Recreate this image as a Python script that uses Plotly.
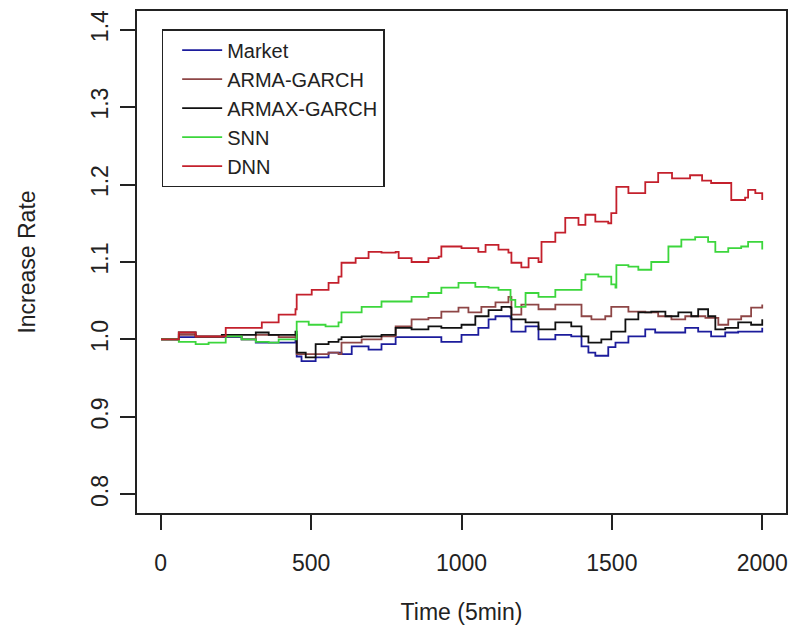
import plotly.graph_objects as go

# ---- data (x = time index, y = cumulative increase rate) ----
market_x = [1, 60, 116, 203, 269, 316, 392, 448, 452, 468, 515, 558, 601, 635, 691, 734, 781, 834, 890, 933,
            1000, 1056, 1090, 1113, 1163, 1166, 1213, 1256, 1312, 1365, 1399, 1422, 1445, 1488, 1512, 1555,
            1611, 1644, 1698, 1744, 1787, 1830, 1877, 1920, 2000]
market_y = [1.000, 1.003, 1.003, 1.003, 1.000, 0.996, 0.996, 1.000, 0.978, 0.972, 0.977, 0.983, 0.981, 0.991,
            0.987, 0.994, 1.003, 1.003, 1.003, 0.997, 1.006, 1.015, 1.026, 1.030, 1.028, 1.010, 1.017, 1.000,
            1.006, 1.004, 0.991, 0.983, 0.979, 0.990, 0.996, 1.004, 1.013, 1.009, 1.009, 1.015, 1.010, 1.004,
            1.009, 1.010, 1.015]

arma_x = [1, 60, 116, 203, 269, 316, 392, 448, 452, 492, 558, 591, 601, 668, 734, 781, 834, 890, 933, 990,
          1023, 1066, 1113, 1156, 1166, 1199, 1256, 1312, 1365, 1399, 1432, 1478, 1498, 1555, 1611, 1654,
          1698, 1744, 1811, 1854, 1887, 1930, 1963, 2000]
arma_y = [1.000, 1.006, 1.003, 1.004, 1.000, 1.006, 1.003, 1.006, 0.981, 0.981, 0.983, 0.981, 0.996, 1.000,
          1.004, 1.017, 1.026, 1.028, 1.036, 1.041, 1.035, 1.042, 1.048, 1.055, 1.032, 1.045, 1.039, 1.045,
          1.045, 1.030, 1.026, 1.030, 1.042, 1.036, 1.035, 1.030, 1.026, 1.030, 1.028, 1.019, 1.026, 1.030,
          1.041, 1.045]

armax_x = [1, 60, 116, 203, 316, 359, 425, 448, 452, 482, 515, 558, 591, 601, 668, 734, 781, 834, 890, 933,
           1000, 1046, 1090, 1133, 1163, 1166, 1213, 1256, 1312, 1365, 1399, 1422, 1465, 1498, 1545, 1588,
           1631, 1678, 1721, 1764, 1787, 1820, 1844, 1877, 1920, 1963, 2000]
armax_y = [1.000, 1.009, 1.004, 1.006, 1.009, 1.006, 1.006, 1.010, 0.983, 0.977, 0.994, 0.997, 1.000, 1.003,
           1.004, 1.006, 1.015, 1.013, 1.017, 1.015, 1.019, 1.030, 1.038, 1.042, 1.041, 1.026, 1.022, 1.013,
           1.022, 1.017, 1.004, 0.996, 1.000, 1.010, 1.026, 1.035, 1.036, 1.030, 1.035, 1.030, 1.039, 1.030,
           1.013, 1.015, 1.022, 1.019, 1.026]

snn_x = [1, 60, 116, 159, 216, 269, 316, 359, 392, 448, 452, 492, 548, 591, 601, 668, 734, 781, 834, 890, 933,
         990, 1046, 1090, 1123, 1163, 1179, 1213, 1256, 1312, 1365, 1399, 1412, 1455, 1498, 1512, 1515, 1555,
         1588, 1631, 1688, 1731, 1777, 1820, 1844, 1887, 1930, 1953, 2000]
snn_y = [1.000, 0.997, 0.994, 0.996, 1.004, 1.000, 0.997, 0.996, 1.000, 1.000, 1.023, 1.019, 1.017, 1.022,
         1.035, 1.042, 1.049, 1.049, 1.055, 1.060, 1.067, 1.073, 1.068, 1.067, 1.064, 1.051, 1.042, 1.060,
         1.055, 1.064, 1.064, 1.077, 1.084, 1.081, 1.071, 1.067, 1.096, 1.094, 1.090, 1.100, 1.120, 1.129,
         1.132, 1.126, 1.113, 1.118, 1.120, 1.126, 1.116]

dnn_x = [1, 60, 116, 203, 216, 302, 336, 392, 448, 452, 502, 558, 591, 601, 648, 691, 734, 781, 791, 834, 890,
         924, 933, 1000, 1056, 1080, 1123, 1156, 1166, 1199, 1223, 1256, 1266, 1312, 1345, 1389, 1412, 1445,
         1488, 1498, 1515, 1555, 1611, 1654, 1700, 1760, 1800, 1830, 1897, 1943, 1953, 1977, 2000]
dnn_y = [1.000, 1.009, 1.004, 1.004, 1.015, 1.015, 1.022, 1.032, 1.039, 1.058, 1.064, 1.073, 1.081, 1.099,
         1.105, 1.113, 1.112, 1.113, 1.105, 1.100, 1.105, 1.107, 1.120, 1.118, 1.113, 1.122, 1.116, 1.112,
         1.099, 1.093, 1.105, 1.100, 1.126, 1.138, 1.157, 1.148, 1.161, 1.152, 1.150, 1.163, 1.197, 1.189,
         1.203, 1.215, 1.208, 1.212, 1.205, 1.202, 1.180, 1.183, 1.193, 1.189, 1.180]

series_names = ["Market", "ARMA-GARCH", "ARMAX-GARCH", "SNN", "DNN"]
series_colors = ["#1c1c9c", "#8e4646", "#111111", "#3cd63c", "#c4202c"]

x_ticks = [0, 500, 1000, 1500, 2000]
y_ticks = [0.8, 0.9, 1.0, 1.1, 1.2, 1.3, 1.4]

FONT = "Liberation Sans, Arial, sans-serif"

fig = go.Figure()
data = [(market_x, market_y), (arma_x, arma_y), (armax_x, armax_y), (snn_x, snn_y), (dnn_x, dnn_y)]
for (xs, ys), name, col in zip(data, series_names, series_colors):
    fig.add_trace(go.Scatter(x=xs, y=ys, mode="lines", name=name,
                             line=dict(color=col, width=1.8, shape="hv")))

axis_common = dict(showgrid=False, zeroline=False, showline=True, linecolor="#222", linewidth=1.5,
                   mirror=True, ticks="outside", ticklen=15, tickwidth=1.5, tickcolor="#222",
                   tickfont=dict(family=FONT, size=23, color="#222"))

fig.update_xaxes(range=[-79, 2079], tickvals=x_ticks, ticklabelstandoff=14,
                 title=dict(text="Time (5min)", font=dict(family=FONT, size=23, color="#222"), standoff=29),
                 **axis_common)
fig.update_yaxes(range=[0.776, 1.424], tickvals=y_ticks, tickformat=".1f", tickangle=-90,
                 ticklabelstandoff=3,
                 title=dict(text="Increase Rate", font=dict(family=FONT, size=23, color="#222"), standoff=45),
                 **axis_common)

fig.update_layout(
    width=795, height=633,
    margin=dict(l=137, r=7, t=11, b=120),
    paper_bgcolor="white", plot_bgcolor="white",
    font=dict(family=FONT, color="#222"),
    legend=dict(x=0.038, y=0.964, xanchor="left", yanchor="top",
                bordercolor="#222", borderwidth=1.5, bgcolor="white",
                font=dict(family=FONT, size=20, color="#222"),
                indentation=14, itemwidth=40, tracegroupgap=0),
    showlegend=True,
)

fig.write_html("out.html")
